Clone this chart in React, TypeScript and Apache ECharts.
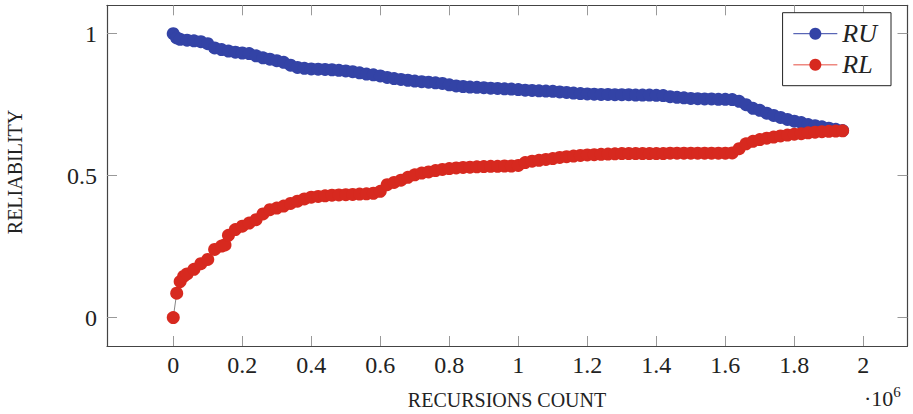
import React, { useEffect, useRef } from "react";
import * as echarts from "echarts";

// x values in units of 10^6 recursions
const ruX = [0, 0.01, 0.02, 0.04, 0.06, 0.08, 0.1, 0.12, 0.14, 0.16, 0.18, 0.2, 0.22, 0.24, 0.26, 0.28, 0.3, 0.32, 0.34, 0.36, 0.38, 0.4, 0.42, 0.44, 0.46, 0.48, 0.5, 0.52, 0.54, 0.56, 0.58, 0.6, 0.62, 0.64, 0.66, 0.68, 0.7, 0.72, 0.74, 0.76, 0.78, 0.8, 0.82, 0.84, 0.86, 0.88, 0.9, 0.92, 0.94, 0.96, 0.98, 1.0, 1.02, 1.04, 1.06, 1.08, 1.1, 1.12, 1.14, 1.16, 1.18, 1.2, 1.22, 1.24, 1.26, 1.28, 1.3, 1.32, 1.34, 1.36, 1.38, 1.4, 1.42, 1.44, 1.46, 1.48, 1.5, 1.52, 1.54, 1.56, 1.58, 1.6, 1.62, 1.64, 1.66, 1.68, 1.7, 1.72, 1.74, 1.76, 1.78, 1.8, 1.82, 1.84, 1.86, 1.88, 1.9, 1.92, 1.94];
const ruY = [1.0, 0.985, 0.98, 0.977, 0.975, 0.972, 0.965, 0.95, 0.944, 0.939, 0.935, 0.932, 0.93, 0.922, 0.915, 0.91, 0.905, 0.899, 0.889, 0.881, 0.878, 0.876, 0.875, 0.874, 0.873, 0.871, 0.869, 0.866, 0.862, 0.858, 0.855, 0.851, 0.846, 0.842, 0.839, 0.836, 0.833, 0.831, 0.829, 0.827, 0.825, 0.82, 0.816, 0.814, 0.812, 0.811, 0.81, 0.808, 0.807, 0.806, 0.805, 0.803, 0.801, 0.8, 0.799, 0.798, 0.797, 0.795, 0.793, 0.791, 0.789, 0.788, 0.787, 0.786, 0.786, 0.785, 0.785, 0.785, 0.784, 0.784, 0.784, 0.783, 0.782, 0.778, 0.776, 0.774, 0.772, 0.771, 0.77, 0.77, 0.769, 0.769, 0.768, 0.762, 0.75, 0.737, 0.73, 0.72, 0.712, 0.705, 0.698, 0.692, 0.687, 0.68, 0.676, 0.672, 0.667, 0.663, 0.659];

const rlX = [0, 0.01, 0.02, 0.03, 0.04, 0.06, 0.08, 0.1, 0.12, 0.14, 0.15, 0.16, 0.18, 0.2, 0.22, 0.24, 0.26, 0.28, 0.3, 0.32, 0.34, 0.36, 0.38, 0.4, 0.42, 0.44, 0.46, 0.48, 0.5, 0.52, 0.54, 0.56, 0.58, 0.6, 0.62, 0.64, 0.66, 0.68, 0.7, 0.72, 0.74, 0.76, 0.78, 0.8, 0.82, 0.84, 0.86, 0.88, 0.9, 0.92, 0.94, 0.96, 0.98, 1.0, 1.02, 1.04, 1.06, 1.08, 1.1, 1.12, 1.14, 1.16, 1.18, 1.2, 1.22, 1.24, 1.26, 1.28, 1.3, 1.32, 1.34, 1.36, 1.38, 1.4, 1.42, 1.44, 1.46, 1.48, 1.5, 1.52, 1.54, 1.56, 1.58, 1.6, 1.62, 1.64, 1.66, 1.68, 1.7, 1.72, 1.74, 1.76, 1.78, 1.8, 1.82, 1.84, 1.86, 1.88, 1.9, 1.92, 1.94];
const rlY = [0, 0.086, 0.127, 0.145, 0.154, 0.17, 0.19, 0.205, 0.24, 0.252, 0.256, 0.29, 0.31, 0.322, 0.333, 0.345, 0.365, 0.38, 0.386, 0.393, 0.402, 0.41, 0.418, 0.424, 0.427, 0.429, 0.431, 0.432, 0.433, 0.434, 0.435, 0.436, 0.438, 0.445, 0.468, 0.476, 0.484, 0.494, 0.503, 0.509, 0.513, 0.518, 0.522, 0.525, 0.527, 0.529, 0.53, 0.531, 0.532, 0.533, 0.533, 0.534, 0.534, 0.536, 0.546, 0.551, 0.554, 0.557, 0.56, 0.564, 0.567, 0.569, 0.571, 0.573, 0.574, 0.575, 0.576, 0.577, 0.578, 0.578, 0.578, 0.578, 0.578, 0.578, 0.578, 0.579, 0.579, 0.579, 0.579, 0.579, 0.579, 0.579, 0.579, 0.579, 0.58, 0.595, 0.612, 0.621, 0.627, 0.632, 0.636, 0.64, 0.643, 0.646, 0.648, 0.651, 0.653, 0.655, 0.656, 0.657, 0.658];

const xTicks = [0, 0.2, 0.4, 0.6, 0.8, 1, 1.2, 1.4, 1.6, 1.8, 2];
const yTicks = [0, 0.5, 1];
const seriesNames = ["RU", "RL"];
const xTitle = "RECURSIONS COUNT";
const yTitle = "RELIABILITY";

const BLUE = "#3343a6";
const RED = "#d7291f";
const FONT = "'Liberation Serif', 'Times New Roman', serif";

export default function App() {
  const ref = useRef<HTMLDivElement>(null);
  useEffect(() => {
    document.body.style.margin = "0";
    if (!ref.current) return;
    const chart = echarts.init(ref.current, null, { renderer: "svg" });
    const fmt = (v: number) => String(Number(v.toFixed(2)));
    const xBase = {
      type: "value",
      min: -0.192,
      max: 2.128,
      splitLine: { show: false },
      axisLine: { show: true, onZero: false, lineStyle: { color: "#444", width: 1.2 } },
      axisTick: { show: true, inside: true, length: 10, customValues: xTicks, lineStyle: { color: "#999", width: 1 } },
    };
    const yBase = {
      type: "value",
      min: -0.1,
      max: 1.1,
      splitLine: { show: false },
      axisLine: { show: true, onZero: false, lineStyle: { color: "#444", width: 1.2 } },
      axisTick: { show: true, inside: true, length: 10, customValues: yTicks, lineStyle: { color: "#999", width: 1 } },
    };
    chart.setOption({
      animation: false,
      backgroundColor: "#fff",
      grid: { left: 107, right: 5.5, top: 5.3, bottom: 68, containLabel: false },
      xAxis: [
        {
          ...xBase,
          position: "bottom",
          axisLabel: { show: true, customValues: xTicks, formatter: fmt, margin: 7, fontSize: 24, color: "#222", fontFamily: FONT },
        },
        { ...xBase, position: "top", axisLabel: { show: false } },
      ],
      yAxis: [
        {
          ...yBase,
          position: "left",
          axisLabel: { show: true, customValues: yTicks, formatter: fmt, margin: 10, fontSize: 24, color: "#222", fontFamily: FONT },
        },
        { ...yBase, position: "right", axisLabel: { show: false } },
      ],
      legend: {
        orient: "vertical",
        right: 22,
        top: 12.7,
        padding: [8, 14, 8, 10],
        itemGap: 5,
        itemWidth: 44,
        itemHeight: 15,
        borderColor: "#222",
        borderWidth: 1,
        borderRadius: 0,
        backgroundColor: "#fff",
        textStyle: { fontFamily: FONT, fontStyle: "italic", fontSize: 26, color: "#222" },
        data: [
          { name: seriesNames[0], lineStyle: { color: BLUE, width: 1 } },
          { name: seriesNames[1], lineStyle: { color: "#ee8880", width: 1.5 } },
        ],
      },
      series: [
        {
          name: seriesNames[0],
          type: "line",
          data: ruX.map((x, i) => [x, ruY[i]]),
          symbol: "circle",
          symbolSize: 13,
          showSymbol: true,
          itemStyle: { color: BLUE },
          lineStyle: { color: BLUE, width: 0.8 },
          z: 2,
        },
        {
          name: seriesNames[1],
          type: "line",
          data: rlX.map((x, i) => [x, rlY[i]]),
          symbol: "circle",
          symbolSize: 13,
          showSymbol: true,
          itemStyle: { color: RED },
          lineStyle: { color: "#666", width: 0.8 },
          z: 3,
        },
      ],
      graphic: [
        {
          type: "text",
          x: 507,
          y: 400,
          style: { text: xTitle, fontFamily: FONT, fontSize: 20, fill: "#222", textAlign: "center", textVerticalAlign: "middle" },
        },
        {
          type: "text",
          x: 15,
          y: 172,
          rotation: Math.PI / 2,
          style: { text: yTitle, fontFamily: FONT, fontSize: 20, fill: "#222", textAlign: "center", textVerticalAlign: "middle" },
        },
        {
          type: "text",
          x: 864,
          y: 398,
          style: {
            text: "·10{sup|6}",
            fontFamily: FONT,
            fontSize: 22,
            fill: "#222",
            textAlign: "left",
            textVerticalAlign: "middle",
            rich: { sup: { fontSize: 15, fontFamily: FONT, fill: "#222", padding: [0, 0, 12, 0] } },
          },
        },
      ],
    });
    return () => chart.dispose();
  }, []);
  return <div ref={ref} style={{ width: 913, height: 414 }} />;
}
